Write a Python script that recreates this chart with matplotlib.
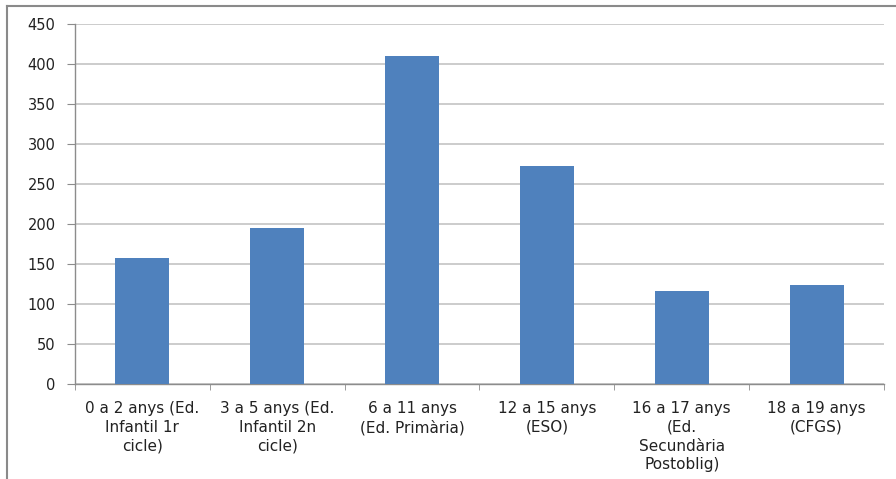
import matplotlib.pyplot as plt
from matplotlib.lines import Line2D

categories = [
    "0 a 2 anys (Ed.\nInfantil 1r\ncicle)",
    "3 a 5 anys (Ed.\nInfantil 2n\ncicle)",
    "6 a 11 anys\n(Ed. Primària)",
    "12 a 15 anys\n(ESO)",
    "16 a 17 anys\n(Ed.\nSecundària\nPostoblig)",
    "18 a 19 anys\n(CFGS)",
]
values = [158, 195, 410, 273, 117, 124]
y_ticks = [0, 50, 100, 150, 200, 250, 300, 350, 400, 450]

plt.rcParams['font.family'] = ['DejaVu Sans']

fig = plt.figure(figsize=(8.96, 4.79), dpi=100)
ax = fig.add_axes([0.0837, 0.1977, 0.9029, 0.7516])

x = list(range(len(categories)))
ax.bar(x, values, width=0.4, color='#4F81BD', zorder=3)

ax.set_xlim(-0.5, len(categories) - 0.5)
ax.set_ylim(0, 450)
ax.set_yticks(y_ticks)
ax.yaxis.grid(True, color='#C8C8C8', linewidth=1.3)
ax.set_axisbelow(True)

ax.set_xticks(x)
ax.set_xticklabels(categories, fontsize=11, color='#222222', linespacing=1.32, va='top')
ax.set_xticks([i - 0.5 for i in range(len(categories) + 1)], minor=True)
ax.tick_params(axis='x', which='major', length=0, pad=12)
ax.tick_params(axis='x', which='minor', length=4, color='#8c8c8c', direction='out')
ax.tick_params(axis='y', length=6, color='#8c8c8c', labelsize=10.5, labelcolor='#222222', pad=8)

for side in ['top', 'right']:
    ax.spines[side].set_visible(False)
for side in ['left', 'bottom']:
    ax.spines[side].set_color('#8c8c8c')
    ax.spines[side].set_linewidth(1.0)

# outer frame lines (left and top edges of the cropped chart area)
fig.add_artist(Line2D([7 / 896, 7 / 896], [0, 1 - 6 / 479], color='#8a8a8a', linewidth=1.5))
fig.add_artist(Line2D([7 / 896, 1], [1 - 6 / 479, 1 - 6 / 479], color='#8a8a8a', linewidth=1.5))

fig.savefig('out.png', dpi=100)
